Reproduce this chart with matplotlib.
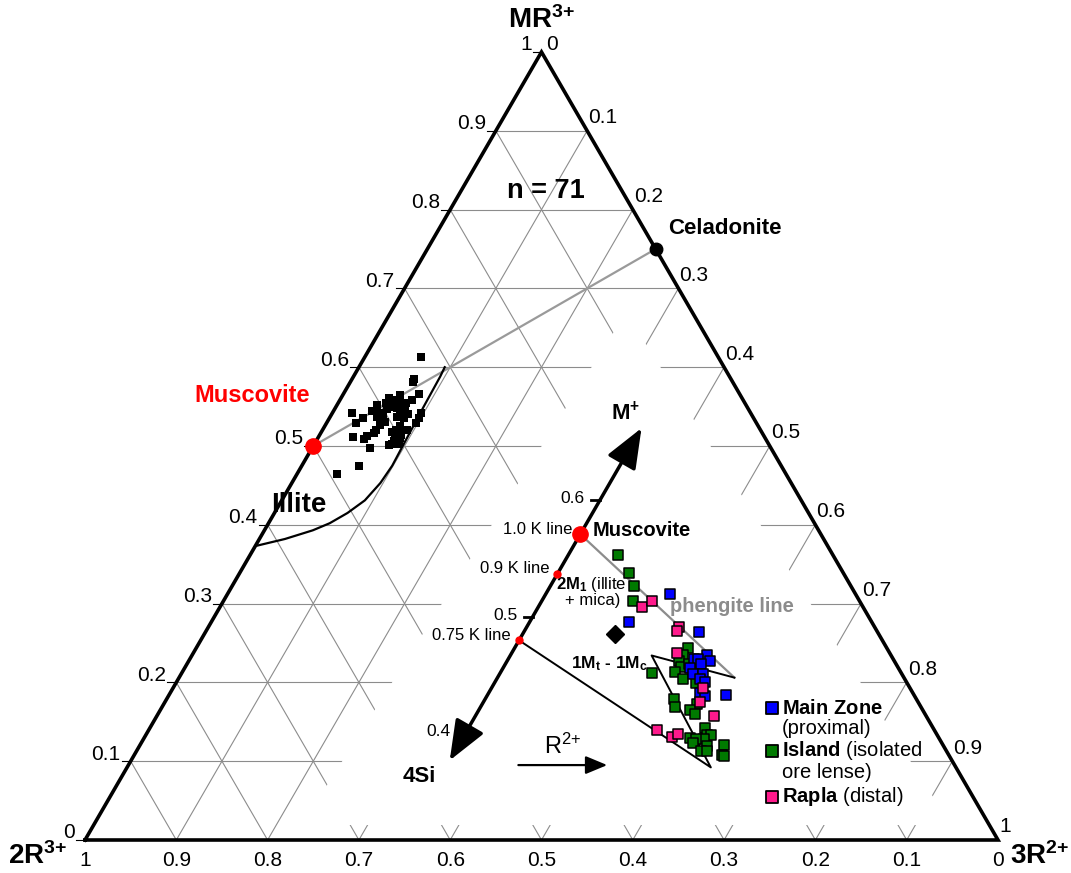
# Ternary plot: MR3+ - 2R3+ - 3R2+ with inset M+ - 4Si - R2+ diagram

import numpy as np
import matplotlib
matplotlib.use("Agg")
import matplotlib.pyplot as plt
from matplotlib.patches import Polygon

plt.rcParams['font.family'] = ['Liberation Sans', 'DejaVu Sans']
plt.rcParams['mathtext.fontset'] = 'custom'
plt.rcParams['mathtext.rm'] = 'Liberation Sans'
plt.rcParams['mathtext.it'] = 'Liberation Sans:italic'
plt.rcParams['mathtext.bf'] = 'Liberation Sans:bold'

# Axis ticks
ticks = [0, 0.1, 0.2, 0.3, 0.4, 0.5, 0.6, 0.7, 0.8, 0.9, 1]
inner_ticks = [0.4, 0.5, 0.6]

# Main diagram data (MR3+ and 3R2+ fractions), n = 71
main_mr3 = [0.613, 0.585, 0.581, 0.566, 0.558, 0.555, 0.565, 0.556, 0.554, 0.561, 0.550, 0.547,
            0.548, 0.546, 0.552, 0.542, 0.544, 0.542, 0.535, 0.529, 0.537, 0.531, 0.537, 0.535,
            0.540, 0.542, 0.535, 0.529, 0.527, 0.520, 0.517, 0.525, 0.520, 0.520, 0.520, 0.518,
            0.516, 0.514, 0.510, 0.513, 0.509, 0.511, 0.506, 0.503, 0.501, 0.503, 0.498, 0.475,
            0.465, 0.554, 0.558, 0.539, 0.554, 0.550]
main_r2 = [0.062, 0.068, 0.069, 0.083, 0.079, 0.074, 0.063, 0.063, 0.061, 0.052, 0.059, 0.057,
           0.068, 0.072, 0.044, 0.052, 0.042, 0.021, 0.037, 0.032, 0.051, 0.063, 0.073, 0.082,
           0.084, 0.097, 0.098, 0.098, 0.060, 0.059, 0.058, 0.083, 0.081, 0.088, 0.093, 0.077,
           0.081, 0.089, 0.090, 0.052, 0.051, 0.038, 0.085, 0.092, 0.082, 0.085, 0.063, 0.063,
           0.044, 0.053, 0.057, 0.057, 0.070, 0.075]

# Illite field boundary
illite_mr3 = [0.373, 0.382, 0.393, 0.402, 0.415, 0.431, 0.453, 0.475, 0.499, 0.550, 0.588, 0.600]
illite_r2 = [0.000, 0.028, 0.053, 0.067, 0.080, 0.091, 0.097, 0.099, 0.098, 0.096, 0.095, 0.094]

# End members (MR3+, 3R2+)
muscovite_main = (0.5, 0.0)
celadonite_main = (0.75, 0.25)

# Blank area of the inset (MR3+, 3R2+)
mask_mr3 = [0.669, 0.019, 0.019]
mask_r2 = [0.258, 0.228, 0.939]

# Inset data (M+ and R2+ fractions)
green_m = [0.553, 0.538, 0.527, 0.514, 0.473, 0.467, 0.462, 0.457, 0.460, 0.457, 0.453, 0.452,
           0.447, 0.443, 0.425, 0.430, 0.423, 0.420, 0.417, 0.405, 0.399, 0.399, 0.395, 0.396,
           0.395, 0.392, 0.389, 0.390, 0.385, 0.385, 0.382, 0.381]
green_r = [0.037, 0.053, 0.062, 0.068, 0.129, 0.128, 0.128, 0.132, 0.136, 0.144, 0.129, 0.113,
           0.138, 0.150, 0.160, 0.140, 0.144, 0.157, 0.162, 0.176, 0.180, 0.183, 0.180, 0.169,
           0.174, 0.173, 0.185, 0.197, 0.183, 0.187, 0.200, 0.202]
blue_m = [0.520, 0.496, 0.487, 0.467, 0.464, 0.464, 0.462, 0.460, 0.456, 0.451, 0.451, 0.447,
          0.444, 0.435, 0.432, 0.433]
blue_r = [0.092, 0.074, 0.130, 0.146, 0.138, 0.141, 0.151, 0.145, 0.139, 0.144, 0.151, 0.151,
          0.156, 0.157, 0.162, 0.177]
pink_m = [0.509, 0.514, 0.491, 0.488, 0.469, 0.439, 0.427, 0.415, 0.403, 0.397, 0.400]
pink_r = [0.077, 0.082, 0.113, 0.113, 0.123, 0.157, 0.161, 0.177, 0.141, 0.155, 0.158]
diamond_m, diamond_r = 0.485, 0.069

# K lines on the M+ axis
k_line_m = [0.571, 0.537, 0.48]
k_line_labels = ["1.0 K line", "0.9 K line", "0.75 K line"]

# Phengite line and 1Mt-1Mc field (M+, R2+)
phengite_m = [0.571, 0.448]
phengite_r = [0.0, 0.176]
field_m = [0.48, 0.371, 0.467, 0.448]
field_r = [0.0, 0.197, 0.105, 0.176]

# Axis range of the inset arrows
axis_m = [0.377, 0.662]
r2_arrow_m = 0.373
r2_arrow_r = [0.053, 0.119]

colors = {"Main Zone": "#0000ff", "Island": "#007a00", "Rapla": "#ff1a8c"}


def tern(a, c):
    a = np.asarray(a, float)
    c = np.asarray(c, float)
    return 85 + 913 * (c + a / 2), 840 - 788 * a


def inner(m, r):
    m = np.asarray(m, float)
    r = np.asarray(r, float)
    return 196 + 1346 * (r + m / 2), 1200 - 1166 * m


def lbl(k):
    return "0" if k == 0 else ("1" if k == 1 else f"{k:.1f}")


fig = plt.figure(figsize=(10.71, 8.73), dpi=100)
ax = fig.add_axes([0, 0, 1, 1])
ax.set_xlim(0, 1071)
ax.set_ylim(873, 0)
ax.axis('off')

# Grid
gc = '#8c8c8c'
for k in ticks[1:-1]:
    x, y = tern([k, k], [0, 1 - k])
    ax.plot(x, y, color=gc, lw=0.8, zorder=1)
    x, y = tern([0, 1 - k], [k, k])
    ax.plot(x, y, color=gc, lw=0.8, zorder=1)
    x, y = tern([0, 1 - k], [1 - k, 0])
    ax.plot(x, y, color=gc, lw=0.8, zorder=1)

mx, my = tern(mask_mr3, mask_r2)
ax.add_patch(Polygon(np.column_stack([mx, my]), closed=True, fc='white', ec='none', zorder=2))

# Triangle
x, y = tern([0, 0, 1, 0], [0, 1, 0, 0])
ax.plot(x, y, color='k', lw=2.6, zorder=3, solid_joinstyle='miter')

# Tick labels
for k in ticks:
    x0, y0 = tern(k, 0)
    ax.plot([x0 - 9, x0], [y0, y0], color='k', lw=0.8, zorder=3)
    ax.text(x0 - 10, y0 - 7, lbl(k), ha='right', va='center', fontsize=15)
    x0, y0 = tern(1 - k, k)
    if k == 0:
        ax.text(x0 + 5, y0 - 7, lbl(k), ha='left', va='center', fontsize=15)
    else:
        ax.text(x0 + 1, y0 - 13, lbl(k), ha='left', va='center', fontsize=15)
    x0, y0 = tern(0, 1 - k)
    ax.text(x0, 861, lbl(k), ha='center', va='center', fontsize=15)

ax.text(541, 20, r"$\mathbf{MR^{3{+}}}$", ha='center', va='center', fontsize=20)
ax.text(38, 856, r"$\mathbf{2R^{3{+}}}$", ha='center', va='center', fontsize=20)
ax.text(1040, 856, r"$\mathbf{3R^{2{+}}}$", ha='center', va='center', fontsize=20)

# Main diagram content
x, y = tern([muscovite_main[0], celadonite_main[0]], [muscovite_main[1], celadonite_main[1]])
ax.plot(x, y, color='#9a9a9a', lw=1.6, zorder=4)
x, y = tern(illite_mr3, illite_r2)
ax.plot(x, y, color='k', lw=1.6, zorder=4, solid_joinstyle='round')
x, y = tern(main_mr3, main_r2)
ax.scatter(x, y, marker='s', s=26, color='k', lw=0, zorder=5)
x, y = tern(*muscovite_main)
ax.plot(x, y, 'o', color='red', ms=11, zorder=6)
x, y = tern(*celadonite_main)
ax.plot(x, y, 'o', color='k', ms=9, zorder=6)

ax.text(546, 191, "n = 71", ha='center', va='center', fontsize=19.5, fontweight='bold')
ax.text(668, 228, "Celadonite", ha='left', va='center', fontsize=16, fontweight='bold')
ax.text(252, 395, "Muscovite", ha='center', va='center', fontsize=17, fontweight='bold', color='red')
ax.text(299, 505, "Illite", ha='center', va='center', fontsize=20, fontweight='bold')

# Inset diagram
x, y = inner(axis_m, [0, 0])
ax.annotate('', xy=(x[1], y[1]), xytext=(x[0], y[0]),
            arrowprops=dict(arrowstyle='<|-|>,head_length=0.55,head_width=0.22', lw=2.5,
                            color='k', mutation_scale=45, shrinkA=0, shrinkB=0), zorder=6)
ax.text(x[1] - 16, y[1] - 15, r"$\mathbf{M^{{+}}}$", ha='center', va='center', fontsize=16)
ax.text(x[0] - 30, y[0] + 16, "4Si", ha='center', va='center', fontsize=16, fontweight='bold')

for m in inner_ticks:
    x0, y0 = inner(m, 0)
    ax.plot([x0 - 9, x0], [y0, y0], color='k', lw=2, zorder=6)
    ax.text(x0 - 15, y0 - 2, f"{m:.1f}", ha='right', va='center', fontsize=12.5)

x, y = inner([r2_arrow_m, r2_arrow_m], r2_arrow_r)
ax.annotate('', xy=(x[1], y[1]), xytext=(x[0], y[0]),
            arrowprops=dict(arrowstyle='-|>,head_length=0.6,head_width=0.25', lw=1.6,
                            color='k', mutation_scale=22, shrinkA=0, shrinkB=0), zorder=6)
ax.text((x[0] + x[1]) / 2, y[0] - 19, r"R$^{2{+}}$", ha='center', va='center', fontsize=17)

x, y = inner(phengite_m, phengite_r)
ax.plot(x, y, color='#8c8c8c', lw=1.6, zorder=5)
x, y = inner(field_m, field_r)
ax.plot(x, y, color='k', lw=1.4, zorder=5)

for m, txt in zip(k_line_m, k_line_labels):
    x0, y0 = inner(m, 0)
    ax.text(x0 - 8, y0 - 5, txt, ha='right', va='center', fontsize=12)
x, y = inner(k_line_m[0], 0)
ax.plot(x, y, 'o', color='red', ms=11, zorder=7)
x, y = inner(k_line_m[1:], [0, 0])
ax.plot(x, y, 'o', color='red', ms=5, lw=0, zorder=7)

ax.text(593, 531, "Muscovite", ha='left', va='center', fontsize=14.5, fontweight='bold')
ax.text(556, 584, r"$\mathbf{2M_1}$ (illite", ha='left', va='center', fontsize=12)
ax.text(565, 601, "+ mica)", ha='left', va='center', fontsize=12)
ax.text(670, 606, "phengite line", ha='left', va='center', fontsize=14.5, fontweight='bold',
        color='#8c8c8c')
ax.text(571, 664, r"$\mathbf{1M_t}$ - $\mathbf{1M_c}$", ha='left', va='center', fontsize=12.5,
        fontweight='bold')

x, y = inner(diamond_m, diamond_r)
ax.plot(x, y, 'D', color='k', ms=9, zorder=7)

for name, mm, rr in [("Island", green_m, green_r), ("Main Zone", blue_m, blue_r), ("Rapla", pink_m, pink_r)]:
    x, y = inner(mm, rr)
    ax.scatter(x, y, marker='s', s=50, color=colors[name], edgecolor='k', lw=1.1, zorder=8)

# Legend
leg = [("Main Zone", r"$\mathbf{Main\ Zone}$", "(proximal)", 708),
       ("Island", r"$\mathbf{Island}$ (isolated", "ore lense)", 751),
       ("Rapla", r"$\mathbf{Rapla}$ (distal)", None, 797)]
for name, line1, line2, yy in leg:
    ax.scatter([772], [yy], marker='s', s=70, color=colors[name], edgecolor='k', lw=1.3, zorder=8)
    ax.text(782, yy, line1, ha='left', va='center', fontsize=14.5)
    if line2:
        ax.text(782, yy + 21, line2, ha='left', va='center', fontsize=14.5)

fig.savefig("out.png", dpi=100)
